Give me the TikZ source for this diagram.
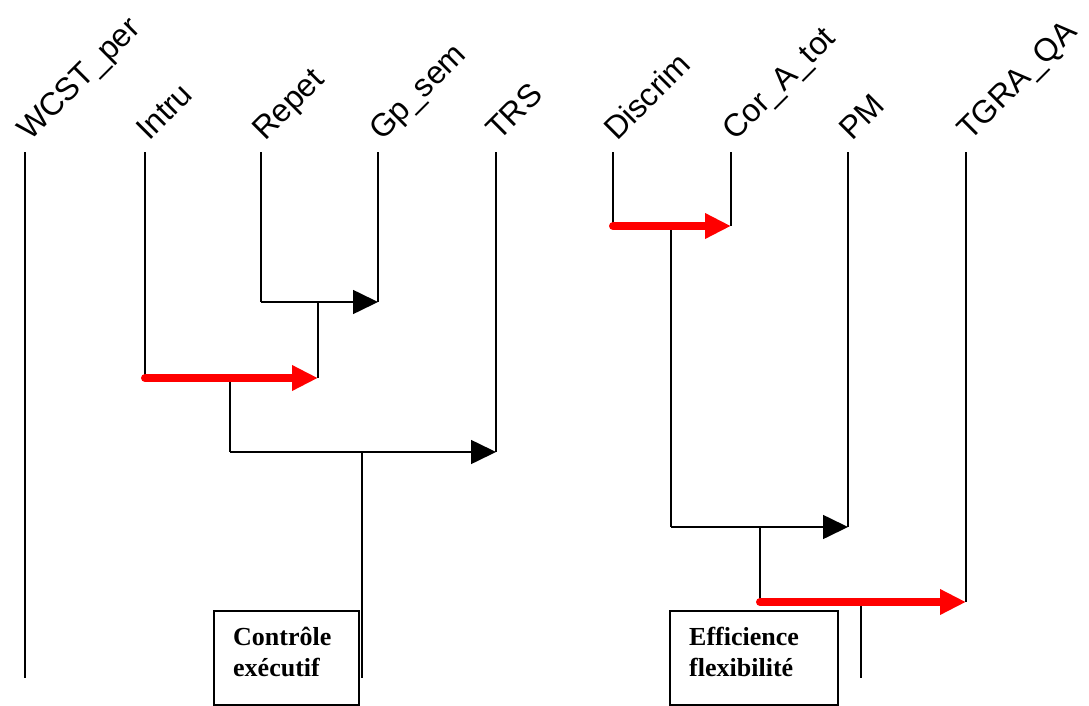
\documentclass[tikz,border=0pt]{standalone}
\usepackage{fontspec}
\setmainfont{Liberation Serif}
\newfontfamily\labelfont{Liberation Sans}
\usetikzlibrary{arrows.meta}
\tikzset{
  varlabel/.style={anchor=base west, rotate=45, inner sep=0pt, font=\labelfont\fontsize{32}{35}\selectfont},
  tree/.style={line width=1.6pt, black},
  blackarrow/.style={line width=1.6pt, black, -{Triangle[length=25pt,width=24pt]}},
  redarrow/.style={line width=8pt, red, line cap=round, -{Triangle[length=26pt,width=24pt]}},
  factorbox/.style={draw, line width=1.6pt, minimum width=145pt, minimum height=94pt, inner sep=0pt},
  boxtext/.style={font=\bfseries\fontsize{26}{31}\selectfont, anchor=base west, inner sep=0pt}
}
\begin{document}
\begin{tikzpicture}[x=1pt,y=-1pt]
\useasboundingbox (0,0) rectangle (1089,706);
% labels
\node[varlabel] (lWCST) at (30,142) {WCST\_per};
\node[varlabel] (lIntru) at (149,142) {Intru};
\node[varlabel] (lRepet) at (265,142) {Repet};
\node[varlabel] (lGp) at (382,142) {Gp\_sem};
\node[varlabel] (lTRS) at (499,142) {TRS};
\node[varlabel] (lDiscrim) at (617,142) {Discrim};
\node[varlabel] (lCor) at (735,142) {Cor\_A\_tot};
\node[varlabel] (lPM) at (852,142) {PM};
\node[varlabel] (lTGRA) at (970,142) {TGRA\_QA};
% tops
\coordinate (tW) at (25,152);
\coordinate (tI) at (145,152);
\coordinate (tR) at (261,152);
\coordinate (tG) at (378,152);
\coordinate (tT) at (496,152);
\coordinate (tD) at (613,152);
\coordinate (tC) at (731,152);
\coordinate (tP) at (848,152);
\coordinate (tQ) at (966,152);
% junctions
\coordinate (jR) at (261,302);
\coordinate (jG) at (378,302);
\coordinate (m1) at (318,302);
\coordinate (jI) at (145,378);
\coordinate (m1b) at (318,378);
\coordinate (m2) at (230,378);
\coordinate (m2b) at (230,452);
\coordinate (jT) at (496,452);
\coordinate (m3) at (362,452);
\coordinate (m3b) at (362,678);
\coordinate (bW) at (25,678);
\coordinate (jD) at (613,226);
\coordinate (jC) at (731,226);
\coordinate (m4) at (671,226);
\coordinate (m4b) at (671,527);
\coordinate (jP) at (848,527);
\coordinate (m5) at (760,527);
\coordinate (m5b) at (760,602);
\coordinate (jQ) at (966,602);
\coordinate (m6) at (861,602);
\coordinate (m6b) at (861,678);
% verticals
\draw[tree] (tW) -- (bW);
\draw[tree] (tI) -- (jI);
\draw[tree] (tR) -- (jR);
\draw[tree] (tG) -- (jG);
\draw[tree] (tT) -- (jT);
\draw[tree] (tD) -- (jD);
\draw[tree] (tC) -- (jC);
\draw[tree] (tP) -- (jP);
\draw[tree] (tQ) -- (jQ);
% stems
\draw[tree] (m1) -- (m1b);
\draw[tree] (m2) -- (m2b);
\draw[tree] (m3) -- (m3b);
\draw[tree] (m4) -- (m4b);
\draw[tree] (m5) -- (m5b);
\draw[tree] (m6) -- (m6b);
% horizontal arrows
\draw[blackarrow] (jR) -- (jG);
\draw[redarrow] (jI) -- (m1b);
\draw[blackarrow] (m2b) -- (jT);
\draw[redarrow] (jD) -- (jC);
\draw[blackarrow] (m4b) -- (jP);
\draw[redarrow] (m5b) -- (jQ);
% boxes
\node[factorbox, anchor=north west] (box1) at (213,610) {};
\node[factorbox, anchor=north west, minimum width=168pt] (box2) at (669,610) {};
\node[boxtext] (t1a) at (233,645) {Contrôle};
\node[boxtext] (t1b) at (233,676) {exécutif};
\node[boxtext] (t2a) at (689,645) {Efficience};
\node[boxtext] (t2b) at (689,676) {flexibilité};
\end{tikzpicture}
\end{document}
